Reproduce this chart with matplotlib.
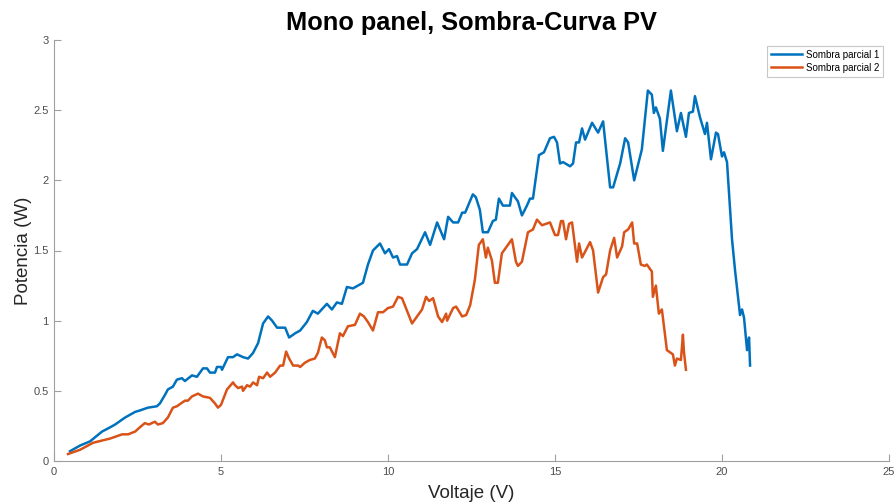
import matplotlib
matplotlib.use("Agg")
import matplotlib.pyplot as plt
import numpy as np

# Sombra parcial 1 (voltage in V, power in W)
v1 = [0.48, 0.78, 1.08, 1.44, 1.68, 1.83, 2.13, 2.43, 2.57, 2.81,
      3.08, 3.17, 3.32, 3.41, 3.56, 3.68, 3.83, 3.92, 4.13, 4.28,
      4.46, 4.58, 4.67, 4.82, 4.88, 5.00, 5.03, 5.21, 5.36, 5.48,
      5.66, 5.81, 5.96, 6.11, 6.26, 6.41, 6.53, 6.68, 6.83, 6.92,
      7.04, 7.22, 7.37, 7.57, 7.75, 7.90, 8.17, 8.32, 8.47, 8.62,
      8.77, 8.95, 9.25, 9.40, 9.55, 9.76, 9.91, 10.03, 10.15, 10.27,
      10.36, 10.57, 10.72, 10.87, 11.11, 11.26, 11.47, 11.68, 11.80, 11.95,
      12.10, 12.22, 12.31, 12.54, 12.63, 12.75, 12.84, 12.90, 12.99, 13.14,
      13.23, 13.32, 13.44, 13.65, 13.71, 13.89, 14.01, 14.16, 14.25, 14.34,
      14.52, 14.67, 14.85, 14.97, 15.06, 15.15, 15.24, 15.45, 15.54, 15.63,
      15.72, 15.81, 15.90, 16.11, 16.29, 16.44, 16.65, 16.74, 16.95, 17.10,
      17.19, 17.37, 17.60, 17.78, 17.90, 17.96, 18.02, 18.14, 18.23, 18.47,
      18.65, 18.77, 18.92, 19.01, 19.13, 19.19, 19.34, 19.49, 19.55, 19.67,
      19.82, 19.88, 20.00, 20.06, 20.15, 20.30, 20.39, 20.54, 20.60, 20.66,
      20.75, 20.81, 20.84]
p1 = [0.07, 0.11, 0.14, 0.21, 0.24, 0.26, 0.31, 0.35, 0.36, 0.38,
      0.39, 0.41, 0.47, 0.51, 0.53, 0.58, 0.59, 0.57, 0.61, 0.60,
      0.66, 0.66, 0.63, 0.63, 0.67, 0.67, 0.65, 0.74, 0.74, 0.76,
      0.74, 0.73, 0.77, 0.84, 0.98, 1.03, 1.00, 0.95, 0.95, 0.95,
      0.88, 0.91, 0.93, 0.99, 1.07, 1.05, 1.12, 1.08, 1.13, 1.12,
      1.24, 1.23, 1.27, 1.40, 1.50, 1.55, 1.48, 1.51, 1.45, 1.46,
      1.40, 1.40, 1.48, 1.51, 1.63, 1.54, 1.70, 1.58, 1.74, 1.70,
      1.70, 1.77, 1.77, 1.90, 1.88, 1.79, 1.63, 1.63, 1.63, 1.71,
      1.72, 1.87, 1.82, 1.82, 1.91, 1.85, 1.75, 1.82, 1.87, 1.87,
      2.18, 2.20, 2.30, 2.31, 2.27, 2.12, 2.13, 2.10, 2.12, 2.27,
      2.27, 2.37, 2.29, 2.41, 2.34, 2.42, 1.95, 1.95, 2.12, 2.30,
      2.27, 2.00, 2.22, 2.64, 2.61, 2.48, 2.52, 2.44, 2.21, 2.64,
      2.35, 2.48, 2.31, 2.48, 2.49, 2.60, 2.45, 2.33, 2.41, 2.15,
      2.34, 2.33, 2.17, 2.20, 2.13, 1.58, 1.36, 1.04, 1.08, 1.02,
      0.79, 0.88, 0.68]

# Sombra parcial 2
v2 = [0.42, 0.78, 1.17, 1.68, 2.04, 2.22, 2.43, 2.57, 2.72, 2.84,
      3.02, 3.11, 3.26, 3.41, 3.56, 3.68, 3.80, 3.92, 4.01, 4.13,
      4.31, 4.46, 4.67, 4.82, 4.91, 5.00, 5.18, 5.36, 5.42, 5.51,
      5.63, 5.66, 5.78, 5.87, 5.96, 6.08, 6.14, 6.26, 6.38, 6.47,
      6.62, 6.77, 6.86, 6.95, 7.04, 7.16, 7.31, 7.37, 7.51, 7.66,
      7.81, 7.90, 8.02, 8.11, 8.17, 8.26, 8.41, 8.56, 8.65, 8.80,
      9.01, 9.16, 9.28, 9.40, 9.55, 9.70, 9.85, 10.00, 10.15, 10.30,
      10.42, 10.57, 10.72, 10.87, 11.02, 11.14, 11.23, 11.35, 11.50, 11.62,
      11.74, 11.77, 11.95, 12.04, 12.22, 12.34, 12.46, 12.60, 12.72, 12.84,
      12.93, 12.99, 13.11, 13.20, 13.29, 13.41, 13.56, 13.71, 13.83, 13.89,
      14.01, 14.19, 14.34, 14.46, 14.61, 14.85, 15.00, 15.09, 15.18, 15.24,
      15.33, 15.42, 15.51, 15.66, 15.72, 15.81, 16.05, 16.14, 16.29, 16.44,
      16.53, 16.65, 16.77, 16.86, 17.01, 17.07, 17.19, 17.31, 17.37, 17.46,
      17.57, 17.69, 17.75, 17.90, 17.93, 18.02, 18.11, 18.20, 18.35, 18.41,
      18.53, 18.59, 18.65, 18.77, 18.83, 18.86, 18.92]
p2 = [0.05, 0.08, 0.13, 0.16, 0.19, 0.19, 0.21, 0.24, 0.27, 0.26,
      0.28, 0.26, 0.27, 0.31, 0.38, 0.39, 0.41, 0.43, 0.43, 0.46,
      0.48, 0.46, 0.45, 0.41, 0.38, 0.40, 0.51, 0.56, 0.54, 0.52,
      0.53, 0.50, 0.54, 0.53, 0.56, 0.54, 0.60, 0.59, 0.63, 0.60,
      0.63, 0.68, 0.68, 0.78, 0.73, 0.68, 0.68, 0.67, 0.70, 0.72,
      0.73, 0.77, 0.88, 0.86, 0.81, 0.81, 0.74, 0.91, 0.89, 0.96,
      0.97, 1.05, 1.03, 0.99, 0.93, 1.06, 1.06, 1.09, 1.10, 1.17,
      1.16, 1.07, 0.98, 1.03, 1.08, 1.17, 1.14, 1.16, 1.03, 0.99,
      1.05, 1.00, 1.09, 1.10, 1.03, 1.04, 1.11, 1.29, 1.54, 1.58,
      1.45, 1.52, 1.43, 1.27, 1.27, 1.48, 1.53, 1.58, 1.42, 1.39,
      1.42, 1.63, 1.65, 1.72, 1.68, 1.70, 1.61, 1.61, 1.71, 1.71,
      1.58, 1.69, 1.70, 1.42, 1.55, 1.45, 1.56, 1.50, 1.20, 1.31,
      1.33, 1.50, 1.59, 1.45, 1.53, 1.63, 1.65, 1.70, 1.55, 1.55,
      1.40, 1.39, 1.40, 1.35, 1.17, 1.25, 1.05, 1.08, 0.79, 0.78,
      0.76, 0.68, 0.73, 0.72, 0.90, 0.78, 0.65]

series_names = ["Sombra parcial 1", "Sombra parcial 2"]
x_ticks = [0, 5, 10, 15, 20, 25]
y_ticks = [0, 0.5, 1, 1.5, 2, 2.5, 3]
y_tick_labels = ["0", "0.5", "1", "1.5", "2", "2.5", "3"]

plt.rcParams["font.family"] = ["Liberation Sans", "DejaVu Sans"]

fig = plt.figure(figsize=(8.96, 5.04), dpi=100)
ax = fig.add_axes([54 / 896, 43 / 504, 835 / 896, 421 / 504])

ax.plot(v1, p1, color="#0072BD", lw=1.8, label=series_names[0])
ax.plot(v2, p2, color="#D95319", lw=1.8, label=series_names[1])

ax.set_xlim(0, 25)
ax.set_ylim(0, 3)
ax.set_xticks(x_ticks)
ax.set_yticks(y_ticks)
ax.set_yticklabels(y_tick_labels)

for side in ("top", "right"):
    ax.spines[side].set_visible(False)
for side in ("left", "bottom"):
    ax.spines[side].set_color("#a0a0a0")
    ax.spines[side].set_linewidth(0.8)
ax.tick_params(direction="in", length=5, width=0.8, color="#a0a0a0",
               labelsize=8, labelcolor="#4d4d4d", pad=4)

ax.set_xlabel("Voltaje (V)", fontsize=13.5, color="#262626", labelpad=6)
ax.set_ylabel("Potencia (W)", fontsize=13.5, color="#262626", labelpad=1)
ax.set_title("Mono panel, Sombra-Curva PV", fontsize=18.3, fontweight="bold",
             pad=7)

leg = ax.legend(loc="upper right", fontsize=7, handlelength=3.2,
                fancybox=False, framealpha=1, edgecolor="#c8c8c8",
                borderaxespad=0.6, labelspacing=0.3, handletextpad=0.4,
                borderpad=0.4)
leg.get_frame().set_linewidth(0.8)

fig.savefig("out.png", dpi=100)
